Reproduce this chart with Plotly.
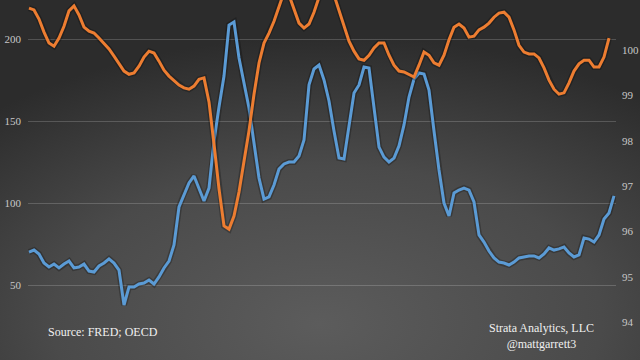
import base64
import plotly.graph_objects as go

# Blue series (left axis)
blue_values = [
    70.1, 71.3, 68.9, 63.4, 61.0, 62.8, 60.4, 62.8, 64.6, 60.4,
    61.0, 62.8, 58.5, 57.9, 61.6, 63.4, 65.9, 63.4, 59.1, 37.8,
    48.8, 48.8, 50.6, 51.2, 53.0, 50.6, 54.9, 60.4, 64.6, 74.4,
    97.6, 105.5, 112.2, 116.5, 109.1, 101.2, 109.1, 137.8, 158.5, 177.4,
    208.5, 210.4, 188.4, 172.0, 157.9, 136.6, 115.2, 102.4, 103.7, 111.0,
    120.7, 123.8, 125.0, 125.0, 128.7, 138.4, 172.0, 181.7, 184.1, 175.0,
    162.2, 143.9, 127.4, 126.8, 148.2, 167.1, 172.0, 182.9, 182.3, 158.5,
    134.1, 128.0, 125.0, 127.4, 134.8, 147.6, 164.6, 175.6, 179.3, 178.7,
    168.9, 143.9, 120.1, 100.0, 92.1, 106.1, 107.9, 109.1, 107.9, 100.6,
    80.5, 76.2, 70.7, 66.5, 64.0, 63.4, 62.2, 64.0, 66.5, 67.1,
    67.7, 67.7, 66.5, 68.9, 72.6, 71.3, 72.0, 73.2, 69.5, 67.1,
    68.3, 78.7, 78.0, 76.2, 80.5, 90.2, 93.9, 104.3,
]

# Orange series (right axis)
orange_values = [
    100.93, 100.89, 100.69, 100.40, 100.16, 100.09, 100.27, 100.53, 100.87, 100.98,
    100.78, 100.51, 100.42, 100.38, 100.27, 100.14, 100.03, 99.87, 99.70, 99.54,
    99.47, 99.50, 99.65, 99.85, 99.98, 99.94, 99.76, 99.56, 99.43, 99.34,
    99.23, 99.17, 99.14, 99.21, 99.36, 99.39, 98.86, 97.93, 96.94, 96.12,
    96.05, 96.34, 96.87, 97.55, 98.22, 99.03, 99.72, 100.16, 100.38, 100.64,
    100.98, 101.28, 101.22, 100.89, 100.60, 100.49, 100.58, 100.84, 101.17, 101.33,
    101.37, 101.22, 100.89, 100.51, 100.20, 99.98, 99.81, 99.78, 99.89, 100.05,
    100.16, 100.16, 99.89, 99.67, 99.54, 99.52, 99.47, 99.41, 99.67, 99.96,
    99.89, 99.72, 99.67, 99.89, 100.23, 100.51, 100.58, 100.49, 100.29, 100.31,
    100.45, 100.51, 100.60, 100.73, 100.82, 100.84, 100.73, 100.45, 100.11, 99.96,
    99.92, 99.92, 99.83, 99.61, 99.34, 99.14, 99.03, 99.06, 99.28, 99.54,
    99.70, 99.78, 99.78, 99.63, 99.63, 99.85, 100.27,
]

left_ticks = [50, 100, 150, 200]
right_ticks = [94, 95, 96, 97, 98, 99, 100, 101]

blue_x = list(range(len(blue_values)))
orange_x = list(range(len(orange_values)))

W, H = 640, 360
ML, MR = 28, 24
PW = W - ML - MR

svg = (
    '<svg xmlns="http://www.w3.org/2000/svg" width="640" height="360">'
    '<defs><radialGradient id="g" cx="0.52" cy="0.88" r="0.78" fx="0.5" fy="0.9">'
    '<stop offset="0" stop-color="#5c5c5c"/>'
    '<stop offset="0.55" stop-color="#4a4a4a"/>'
    '<stop offset="1" stop-color="#2c2c2c"/>'
    '</radialGradient></defs>'
    '<rect width="640" height="360" fill="url(#g)"/></svg>'
)
bg_src = "data:image/svg+xml;base64," + base64.b64encode(svg.encode()).decode()

fig = go.Figure()
# subtle shadows
fig.add_trace(go.Scatter(x=blue_x, y=blue_values, mode="lines", yaxis="y",
                         line=dict(color="rgba(0,0,0,0.25)", width=6),
                         hoverinfo="skip", showlegend=False))
fig.add_trace(go.Scatter(x=orange_x, y=orange_values, mode="lines", yaxis="y2",
                         line=dict(color="rgba(0,0,0,0.25)", width=6),
                         hoverinfo="skip", showlegend=False))
fig.add_trace(go.Scatter(x=blue_x, y=blue_values, mode="lines", yaxis="y",
                         line=dict(color="#5b9bd5", width=3), showlegend=False))
fig.add_trace(go.Scatter(x=orange_x, y=orange_values, mode="lines", yaxis="y2",
                         line=dict(color="#ed7d31", width=3), showlegend=False))

tick_font = dict(family="Liberation Serif, Times New Roman, serif", size=11, color="#c8c8c8")
note_font = dict(family="Liberation Serif, Times New Roman, serif", size=12, color="#f0f0f0")

fig.update_layout(
    width=W, height=H,
    margin=dict(l=ML, r=MR, t=0, b=0, pad=0),
    paper_bgcolor="#3a3a3a",
    plot_bgcolor="rgba(0,0,0,0)",
    showlegend=False,
    xaxis=dict(range=[-0.2, 117.4], visible=False, showgrid=False, zeroline=False),
    yaxis=dict(range=[4.27, 223.78], tickvals=left_ticks, showgrid=True,
               gridcolor="rgba(255,255,255,0.18)", gridwidth=1, zeroline=False,
               showline=False, ticks="", tickfont=tick_font, ticklabelstandoff=6),
    yaxis2=dict(range=[93.16, 101.11], tickvals=right_ticks, overlaying="y", side="right",
                showgrid=False, zeroline=False, showline=False, ticks="",
                tickfont=tick_font, ticklabelstandoff=5),
    images=[dict(source=bg_src, xref="paper", yref="paper",
                 x=-ML / PW, y=1, sizex=W / PW, sizey=1,
                 xanchor="left", yanchor="top", sizing="stretch", layer="below")],
    annotations=[
        dict(text="Source: FRED; OECD", xref="paper", yref="paper",
             x=(103 - ML) / PW, y=1 - 341 / H, xanchor="center", yanchor="bottom",
             showarrow=False, font=note_font),
        dict(text="Strata Analytics, LLC<br>@mattgarrett3", xref="paper", yref="paper",
             x=(541 - ML) / PW, y=1 - 353 / H, xanchor="center", yanchor="bottom",
             align="center", showarrow=False, font=note_font),
    ],
)

fig.write_html(
    "out.html",
    config={"displayModeBar": False},
    post_script="document.body.style.margin='0';document.body.style.overflow='hidden';",
)
